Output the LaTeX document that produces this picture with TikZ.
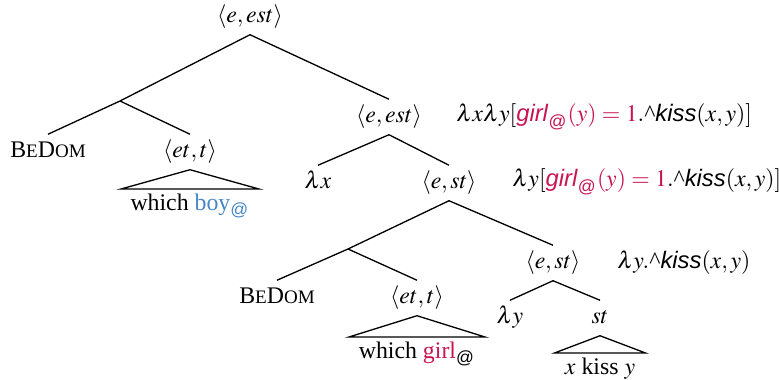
\documentclass[tikz,border=0pt]{standalone}
\usepackage{amsmath}
\usepackage{mathptmx}
\usepackage{fontspec}
\setmainfont{Liberation Serif}
\setsansfont{Liberation Sans}
\definecolor{girlred}{RGB}{200,20,80}
\definecolor{boyblue}{RGB}{70,135,195}
\newcommand{\bedom}{B{\footnotesize E}D{\footnotesize OM}}
\newcommand{\pred}[1]{\textsf{\textit{#1}}}
\newcommand{\atsub}{\text{\sffamily @}}
\newcommand{\upcaret}{\text{\^{}}}

\begin{document}
\begin{tikzpicture}[
    x=0.42pt, y=-0.42pt,
    cat/.style={inner sep=2.5pt, text height=7pt, text depth=2.5pt},
    leaf/.style={anchor=north, inner sep=2pt, text height=7pt, text depth=2pt},
    sem/.style={anchor=west, inner sep=0pt},
    edge/.style={draw, line width=0.55pt}
]
\useasboundingbox (0,0) rectangle (779,380);

% upper half
\node[cat] (root) at (250,17) {$\langle e,est\rangle$};
\coordinate (j1) at (120,101);
\node[cat] (bd1) at (48,152) {\bedom};
\node[cat] (q1) at (190,152) {$\langle et,t\rangle$};
\node[leaf, minimum width=57.5pt] (boy) at (190,189)
  {which \textcolor{boyblue}{boy$_{\atsub}$}};
\node[cat] (n1) at (389,117) {$\langle e,est\rangle$};
\node[sem] (f1) at (456,117)
  {$\lambda x\lambda y[\textcolor{girlred}{\pred{girl}_{\atsub}(y)=1}.\upcaret\pred{kiss}(x,y)]$};
\node[cat] (lx) at (318,183) {$\lambda x$};
\node[cat] (n2) at (449,183) {$\langle e,st\rangle$};
\node[sem] (f2) at (512,182)
  {$\lambda y[\textcolor{girlred}{\pred{girl}_{\atsub}(y)=1}.\upcaret\pred{kiss}(x,y)]$};

% lower half
\coordinate (j2) at (348,249);
\node[cat] (bd2) at (277,298) {\bedom};
\node[cat] (q2) at (417,298) {$\langle et,t\rangle$};
\node[leaf, minimum width=56.7pt] (girl) at (417,337)
  {which \textcolor{girlred}{girl}$_{\atsub}$};
\node[cat] (n3) at (553,263) {$\langle e,st\rangle$};
\node[sem] (f3) at (617,263) {$\lambda y.\upcaret\pred{kiss}(x,y)$};
\node[cat] (ly) at (510,318) {$\lambda y$};
\node[cat] (st) at (600,318) {$st$};
\node[leaf, minimum width=37.8pt] (kiss) at (600,353) {$x$ kiss $y$};

\draw[edge] (root.south) -- (j1) -- (bd1.north);
\draw[edge] (j1) -- (q1.north);
\draw[edge] (root.south) -- (n1.north);
\draw[edge] (n1.south) -- (lx.north);
\draw[edge] (n1.south) -- (n2.north);
\draw[edge] (n2.south) -- (j2) -- (bd2.north);
\draw[edge] (j2) -- (q2.north);
\draw[edge] (n2.south) -- (n3.north);
\draw[edge] (n3.south) -- (ly.north);
\draw[edge] (n3.south) -- (st.north);

% triangles over the leaves
\draw[edge] (q1.south) -- (boy.north east) -- (boy.north west) -- cycle;
\draw[edge] (q2.south) -- (girl.north east) -- (girl.north west) -- cycle;
\draw[edge] (st.south) -- (kiss.north east) -- (kiss.north west) -- cycle;
\end{tikzpicture}
\end{document}
